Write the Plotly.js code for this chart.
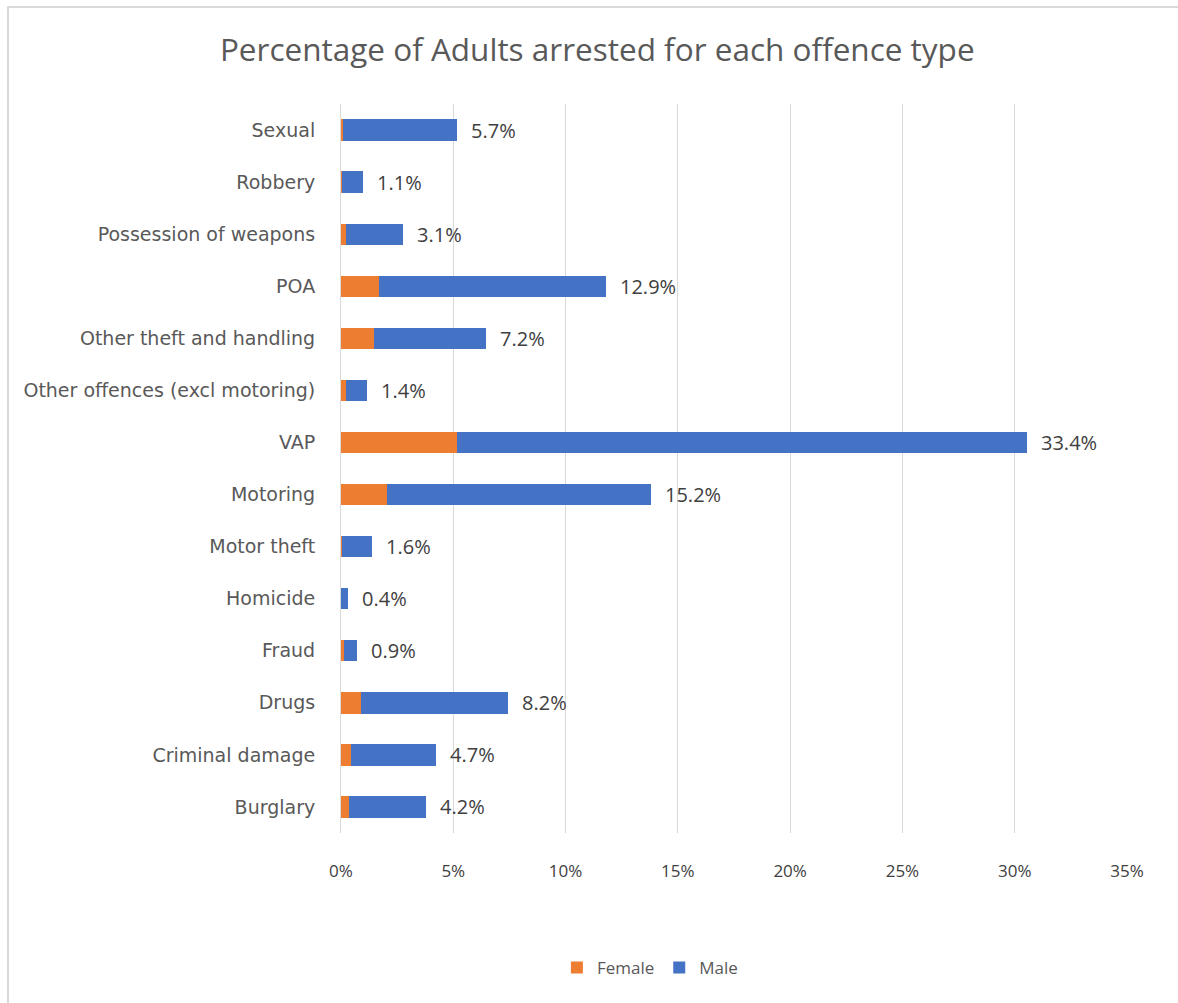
<!DOCTYPE html>
<html>
<head>
<meta charset="utf-8">
<script src="https://cdn.plot.ly/plotly-3.0.1.min.js"></script>
<style>
  html, body { margin: 0; padding: 0; background: #fff; }
  #wrap { position: relative; width: 1178px; height: 1003px; overflow: hidden; }
  #frame { position: absolute; left: 7px; top: 6px; width: 1200px; height: 1020px;
           border-top: 2px solid #d9d9d9; border-left: 2px solid #d9d9d9; pointer-events: none; }
  #chart { position: absolute; left: 0; top: 0; width: 1178px; height: 1003px; }
</style>
</head>
<body>
<div id="wrap">
  <div id="chart"></div>
  <div id="frame"></div>
</div>
<script>
// Categories (top to bottom as shown)
const categories = [
  "Sexual", "Robbery", "Possession of weapons", "POA", "Other theft and handling",
  "Other offences (excl motoring)", "VAP", "Motoring", "Motor theft", "Homicide",
  "Fraud", "Drugs", "Criminal damage", "Burglary"
];
// Segment values (percent)
const female = [0.07, 0.05, 0.22, 1.67, 1.45, 0.22, 5.18, 2.05, 0.05, 0.02, 0.15, 0.87, 0.44, 0.37];
const male   = [5.09, 0.95, 2.54, 10.11, 5.02, 0.93, 25.35, 11.76, 1.33, 0.27, 0.56, 6.55, 3.77, 3.40];
// Total labels as printed on the chart
const totalLabels = ["5.7%", "1.1%", "3.1%", "12.9%", "7.2%", "1.4%", "33.4%", "15.2%", "1.6%", "0.4%", "0.9%", "8.2%", "4.7%", "4.2%"];
const tickVals = [0, 5, 10, 15, 20, 25, 30, 35];
const tickText = ["0%", "5%", "10%", "15%", "20%", "25%", "30%", "35%"];

const FONT = "Open Sans, Liberation Sans, sans-serif";
const WIDEFONT = "DejaVu Sans, Open Sans, sans-serif";

const traces = [
  { type: "bar", orientation: "h", name: "Female", y: categories, x: female,
    marker: { color: "#ED7D31", line: { width: 0 } }, hoverinfo: "x+y" },
  { type: "bar", orientation: "h", name: "Male", y: categories, x: male,
    marker: { color: "#4472C4", line: { width: 0 } }, hoverinfo: "x+y" }
];

const annotations = categories.map((c, i) => ({
  x: female[i] + male[i], y: c, xref: "x", yref: "y",
  text: totalLabels[i], showarrow: false, xanchor: "left", xshift: 12,
  font: { family: FONT, size: 20, color: "#404040" }
}));

const layout = {
  width: 1178, height: 1003,
  paper_bgcolor: "#ffffff", plot_bgcolor: "#ffffff",
  margin: { l: 341, r: 51, t: 104, b: 170 },
  barmode: "stack", bargap: 0.59,
  title: { text: "Percentage of Adults arrested for each offence type",
           x: 0.507, xanchor: "center", y: 0.95, yanchor: "middle",
           font: { family: FONT, size: 31.5, color: "#595959" } },
  xaxis: { range: [0, 35], tickvals: tickVals, ticktext: tickText,
           showgrid: true, gridcolor: "#d9d9d9", gridwidth: 1,
           zeroline: false, showline: false, ticks: "", ticklabelstandoff: 26,
           tickfont: { family: FONT, size: 17, color: "#404040" }, fixedrange: true },
  yaxis: { categoryorder: "array", categoryarray: categories.slice().reverse(),
           showgrid: false, zeroline: false, showline: true, linecolor: "#d9d9d9", linewidth: 1,
           ticks: "", ticklabelstandoff: 21,
           tickfont: { family: WIDEFONT, size: 19, color: "#595959" }, fixedrange: true },
  legend: { orientation: "h", x: 0.393, xanchor: "center", y: -0.185, yanchor: "middle",
            font: { family: FONT, size: 17, color: "#595959" }, traceorder: "normal" },
  annotations: annotations,
  showlegend: true
};

Plotly.newPlot("chart", traces, layout, { displayModeBar: false, staticPlot: true });
</script>
</body>
</html>
